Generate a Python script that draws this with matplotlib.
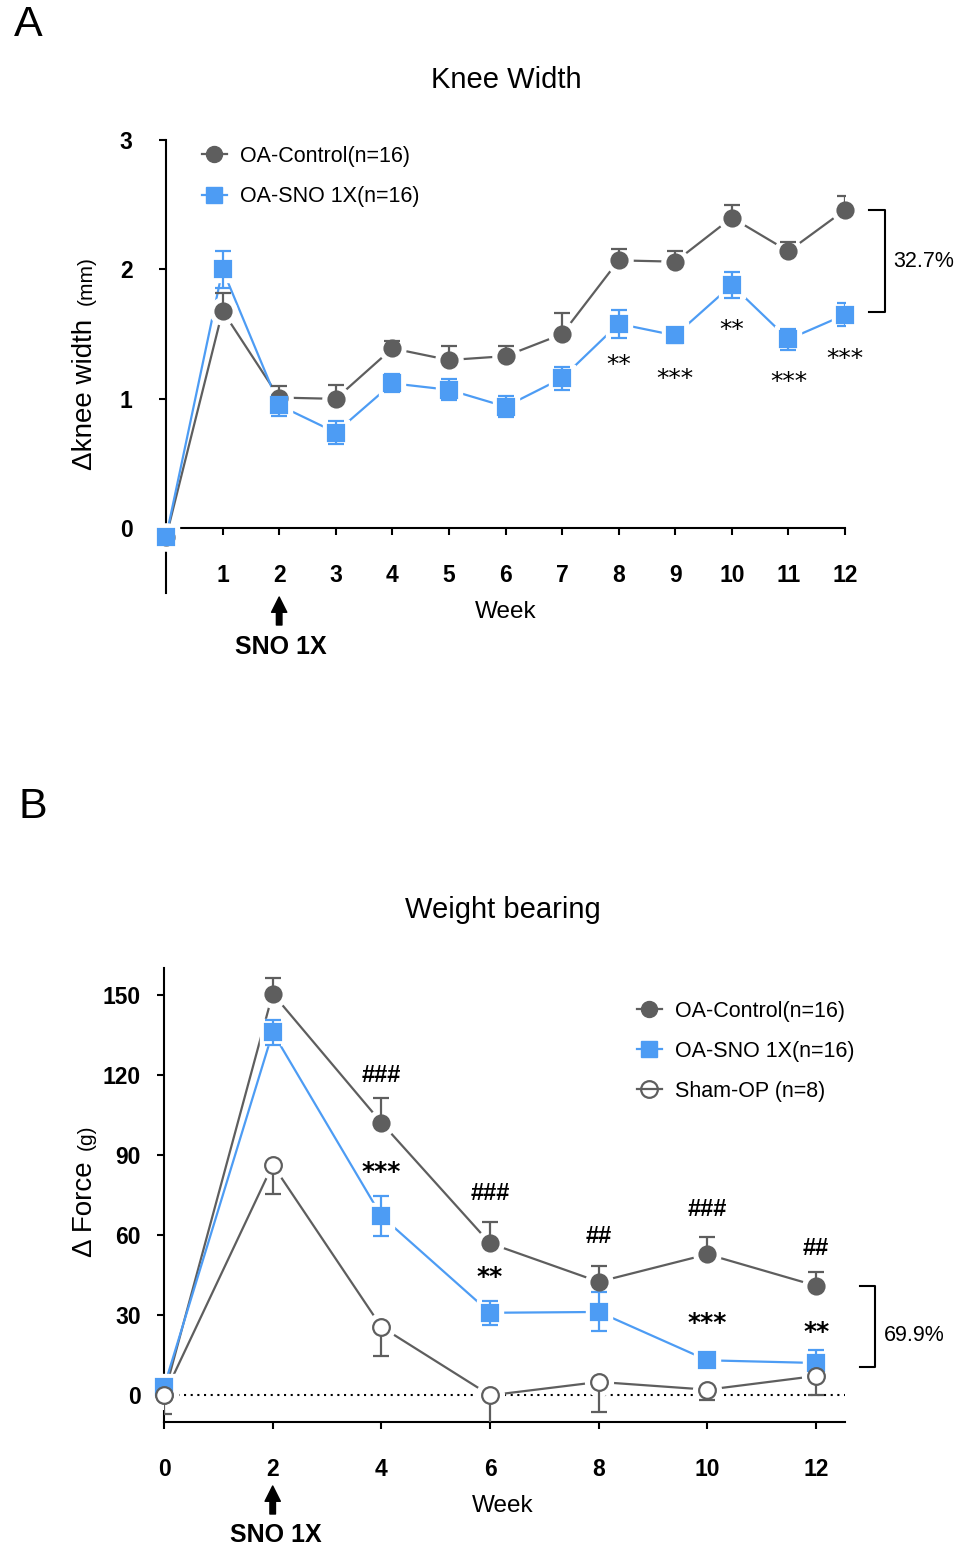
import matplotlib as mpl
import matplotlib.pyplot as plt
import matplotlib.transforms as mtransforms
from matplotlib.lines import Line2D

mpl.use('Agg')
plt.rcParams['font.family'] = ['Liberation Sans', 'DejaVu Sans']

W, H = 972, 1551
GRAY = '#5e5e5e'
BLUE = '#4d9cf4'

# ---- panel A : knee width ----
weeks_a = [0, 1, 2, 3, 4, 5, 6, 7, 8, 9, 10, 11, 12]
ctrl_a = [-0.07, 1.68, 1.01, 1.00, 1.39, 1.30, 1.33, 1.50, 2.07, 2.06, 2.40, 2.14, 2.46]
ctrl_a_err = [0, 0.14, 0.09, 0.11, 0.06, 0.11, 0.08, 0.16, 0.09, 0.08, 0.10, 0.07, 0.11]
sno_a = [-0.07, 2.00, 0.95, 0.74, 1.12, 1.07, 0.94, 1.16, 1.58, 1.49, 1.88, 1.46, 1.65]
sno_a_err = [0, 0.14, 0.08, 0.09, 0.07, 0.08, 0.08, 0.09, 0.11, 0.06, 0.10, 0.08, 0.09]
stars_a_weeks = [8, 9, 10, 11, 12]
stars_a = ['**', '***', '**', '***', '***']
stars_a_y = [1.26, 1.15, 1.535, 1.13, 1.31]

# ---- panel B : weight bearing ----
weeks_b = [0, 2, 4, 6, 8, 10, 12]
ctrl_b = [0, 150.4, 102.1, 56.9, 42.5, 52.8, 41.0]
ctrl_b_err = [0, 6, 9.4, 8, 6, 6.3, 5]
sno_b = [3.1, 135.9, 67.1, 30.9, 31.2, 13.1, 12.1]
sno_b_err = [0, 4.8, 7.5, 4.5, 7.3, 1.5, 5]
sham_b = [0, 86.3, 25.6, 0, 5.0, 2.1, 7.25]
sham_b_err = [7, 11, 11, 11, 11.3, 3.7, 7]
hash_b_weeks = [4, 6, 8, 10, 12]
hash_b = ['###', '###', '##', '###', '##']
hash_b_y = [119.6, 75.6, 59.4, 69.4, 55.0]
star_b_weeks = [4, 6, 10, 12]
star_b = ['***', '**', '***', '**']
star_b_y = [83.5, 44.4, 26.9, 23.7]

labels_a = ['OA-Control(n=16)', 'OA-SNO 1X(n=16)']
labels_b = ['OA-Control(n=16)', 'OA-SNO 1X(n=16)', 'Sham-OP (n=8)']


def fx(px):
    return px / W


def fy(py):
    return 1 - py / H


def series(ax, x, y, lo, hi, color, marker, ms, face):
    ax.plot(x, y, color=color, lw=1.6, zorder=2, clip_on=False)
    ax.plot(x, y, ls='none', marker=marker, ms=ms + 8, mfc='white', mec='white', zorder=3, clip_on=False)
    ax.errorbar(x, y, yerr=[lo, hi], fmt='none', ecolor=color, elinewidth=1.6,
                capsize=5.5, capthick=1.6, zorder=4)
    ax.plot(x, y, ls='none', marker=marker, ms=ms, mfc=face, mec=color, mew=1.6, zorder=5, clip_on=False)


def style(ax, ypad):
    for s in ['top', 'right']:
        ax.spines[s].set_visible(False)
    for s in ['left', 'bottom']:
        ax.spines[s].set_linewidth(1.5)
    ax.tick_params(axis='both', width=1.5, length=5, direction='out', labelsize=16.5)
    ax.tick_params(axis='y', pad=ypad)
    ax.tick_params(axis='x', pad=21)


fig = plt.figure(figsize=(W / 100, H / 100), dpi=100)

# ================= A =================
ax = fig.add_axes([fx(166), fy(593), fx(845 - 166), (593 - 140) / H])
series(ax, weeks_a, ctrl_a, [0] * 13, ctrl_a_err, GRAY, 'o', 11.5, GRAY)
series(ax, weeks_a, sno_a, sno_a_err, sno_a_err, BLUE, 's', 11, BLUE)
ax.set_xlim(0, 12)
ax.set_ylim(-0.5, 3)
style(ax, 19)
ax.spines['bottom'].set_position(('data', 0))
ax.set_xticks(weeks_a[1:])
ax.set_xticklabels([str(w) for w in weeks_a[1:]], fontweight='bold')
ax.set_yticks([0, 1, 2, 3])
ax.set_yticklabels(['0', '1', '2', '3'], fontweight='bold')

for w, s, yy in zip(stars_a_weeks, stars_a, stars_a_y):
    ax.text(w, yy, s, ha='center', va='center', fontsize=18, family='DejaVu Sans')

ax.plot([12.42, 12.71, 12.71, 12.42], [ctrl_a[-1], ctrl_a[-1], sno_a[-1] + 0.02, sno_a[-1] + 0.02],
        color='black', lw=1.5, clip_on=False)
ax.text(12.85, 2.06, '32.7%', ha='left', va='center', fontsize=15.5)

handles_a = [Line2D([], [], color=GRAY, marker='o', ms=11.5, lw=1.6),
             Line2D([], [], color=BLUE, marker='s', ms=11, lw=1.6)]
ax.legend(handles_a, labels_a, loc='upper left', bbox_to_anchor=(fx(202), fy(146)),
          bbox_transform=fig.transFigure, frameon=False, fontsize=15.5, handlelength=1.15,
          handletextpad=0.62, labelspacing=0.9, borderpad=0, borderaxespad=0)

trans = mtransforms.blended_transform_factory(ax.transData, fig.transFigure)
ax.annotate('', xy=(2, fy(597)), xytext=(2, fy(625)), xycoords=trans, textcoords=trans,
            arrowprops=dict(facecolor='black', edgecolor='black', width=4, headwidth=11,
                            headlength=11, shrink=0), annotation_clip=False)
ax.text(2.03, fy(647), 'SNO 1X', transform=trans, ha='center', va='center',
        fontsize=18, fontweight='bold')

fig.text(fx(28), fy(25), 'A', fontsize=31, ha='center', va='center')
fig.text(fx(506), fy(80), 'Knee Width', fontsize=21, ha='center', va='center')
fig.text(fx(506), fy(612), 'Week', fontsize=17.5, ha='center', va='center')
fig.text(fx(92), fy(470), '\u0394knee width', rotation=90, rotation_mode='anchor',
         ha='left', va='baseline', fontsize=20)
fig.text(fx(92), fy(305), '(mm)', rotation=90, rotation_mode='anchor',
         ha='left', va='baseline', fontsize=15)

# ================= B =================
bx = fig.add_axes([fx(164), fy(1422), fx(845 - 164), (1422 - 968) / H])
bx.axhline(0, color='black', lw=1.5, ls=(0, (1, 2.2)), zorder=1)
series(bx, weeks_b, ctrl_b, [0] * 7, ctrl_b_err, GRAY, 'o', 11.5, GRAY)
series(bx, weeks_b, sno_b, sno_b_err, sno_b_err, BLUE, 's', 11, BLUE)
series(bx, weeks_b, sham_b, sham_b_err, [0] * 7, GRAY, 'o', 12, 'white')
bx.set_xlim(0, 12.53)
bx.set_ylim(-10, 160)
style(bx, 11.5)
bx.set_xticks(weeks_b)
bx.set_xticklabels([str(w) for w in weeks_b], fontweight='bold')
bx.set_yticks([0, 30, 60, 90, 120, 150])
bx.set_yticklabels(['0', '30', '60', '90', '120', '150'], fontweight='bold')

for w, s, yy in zip(hash_b_weeks, hash_b, hash_b_y):
    bx.text(w, yy, s, ha='center', va='center', fontsize=17, fontweight='bold')
for w, s, yy in zip(star_b_weeks, star_b, star_b_y):
    bx.text(w, yy, s, ha='center', va='center', fontsize=18, fontweight='bold',
            family='DejaVu Sans')

bx.plot([12.80, 13.09, 13.09, 12.80], [ctrl_b[-1], ctrl_b[-1], 10.6, 10.6],
        color='black', lw=1.5, clip_on=False)
bx.text(13.24, 22.5, '69.9%', ha='left', va='center', fontsize=15.5)

handles_b = [Line2D([], [], color=GRAY, marker='o', ms=11.5, lw=1.6),
             Line2D([], [], color=BLUE, marker='s', ms=11, lw=1.6),
             Line2D([], [], color=GRAY, marker='o', ms=12, mfc='none', mew=1.6, lw=1.6)]
bx.legend(handles_b, labels_b, loc='upper left', bbox_to_anchor=(fx(637), fy(1001)),
          bbox_transform=fig.transFigure, frameon=False, fontsize=15.5, handlelength=1.15,
          handletextpad=0.62, labelspacing=0.88, borderpad=0, borderaxespad=0)

transb = mtransforms.blended_transform_factory(bx.transData, fig.transFigure)
bx.annotate('', xy=(2, fy(1486)), xytext=(2, fy(1514)), xycoords=transb, textcoords=transb,
            arrowprops=dict(facecolor='black', edgecolor='black', width=4, headwidth=11,
                            headlength=11, shrink=0), annotation_clip=False)
bx.text(2.05, fy(1535), 'SNO 1X', transform=transb, ha='center', va='center',
        fontsize=18, fontweight='bold')

fig.text(fx(33), fy(807), 'B', fontsize=31, ha='center', va='center')
fig.text(fx(503), fy(910), 'Weight bearing', fontsize=21, ha='center', va='center')
fig.text(fx(503), fy(1506), 'Week', fontsize=17.5, ha='center', va='center')
fig.text(fx(92), fy(1257), '\u0394 Force', rotation=90, rotation_mode='anchor',
         ha='left', va='baseline', fontsize=20)
fig.text(fx(92), fy(1150), '(g)', rotation=90, rotation_mode='anchor',
         ha='left', va='baseline', fontsize=15)

fig.savefig('out.png', dpi=100)
